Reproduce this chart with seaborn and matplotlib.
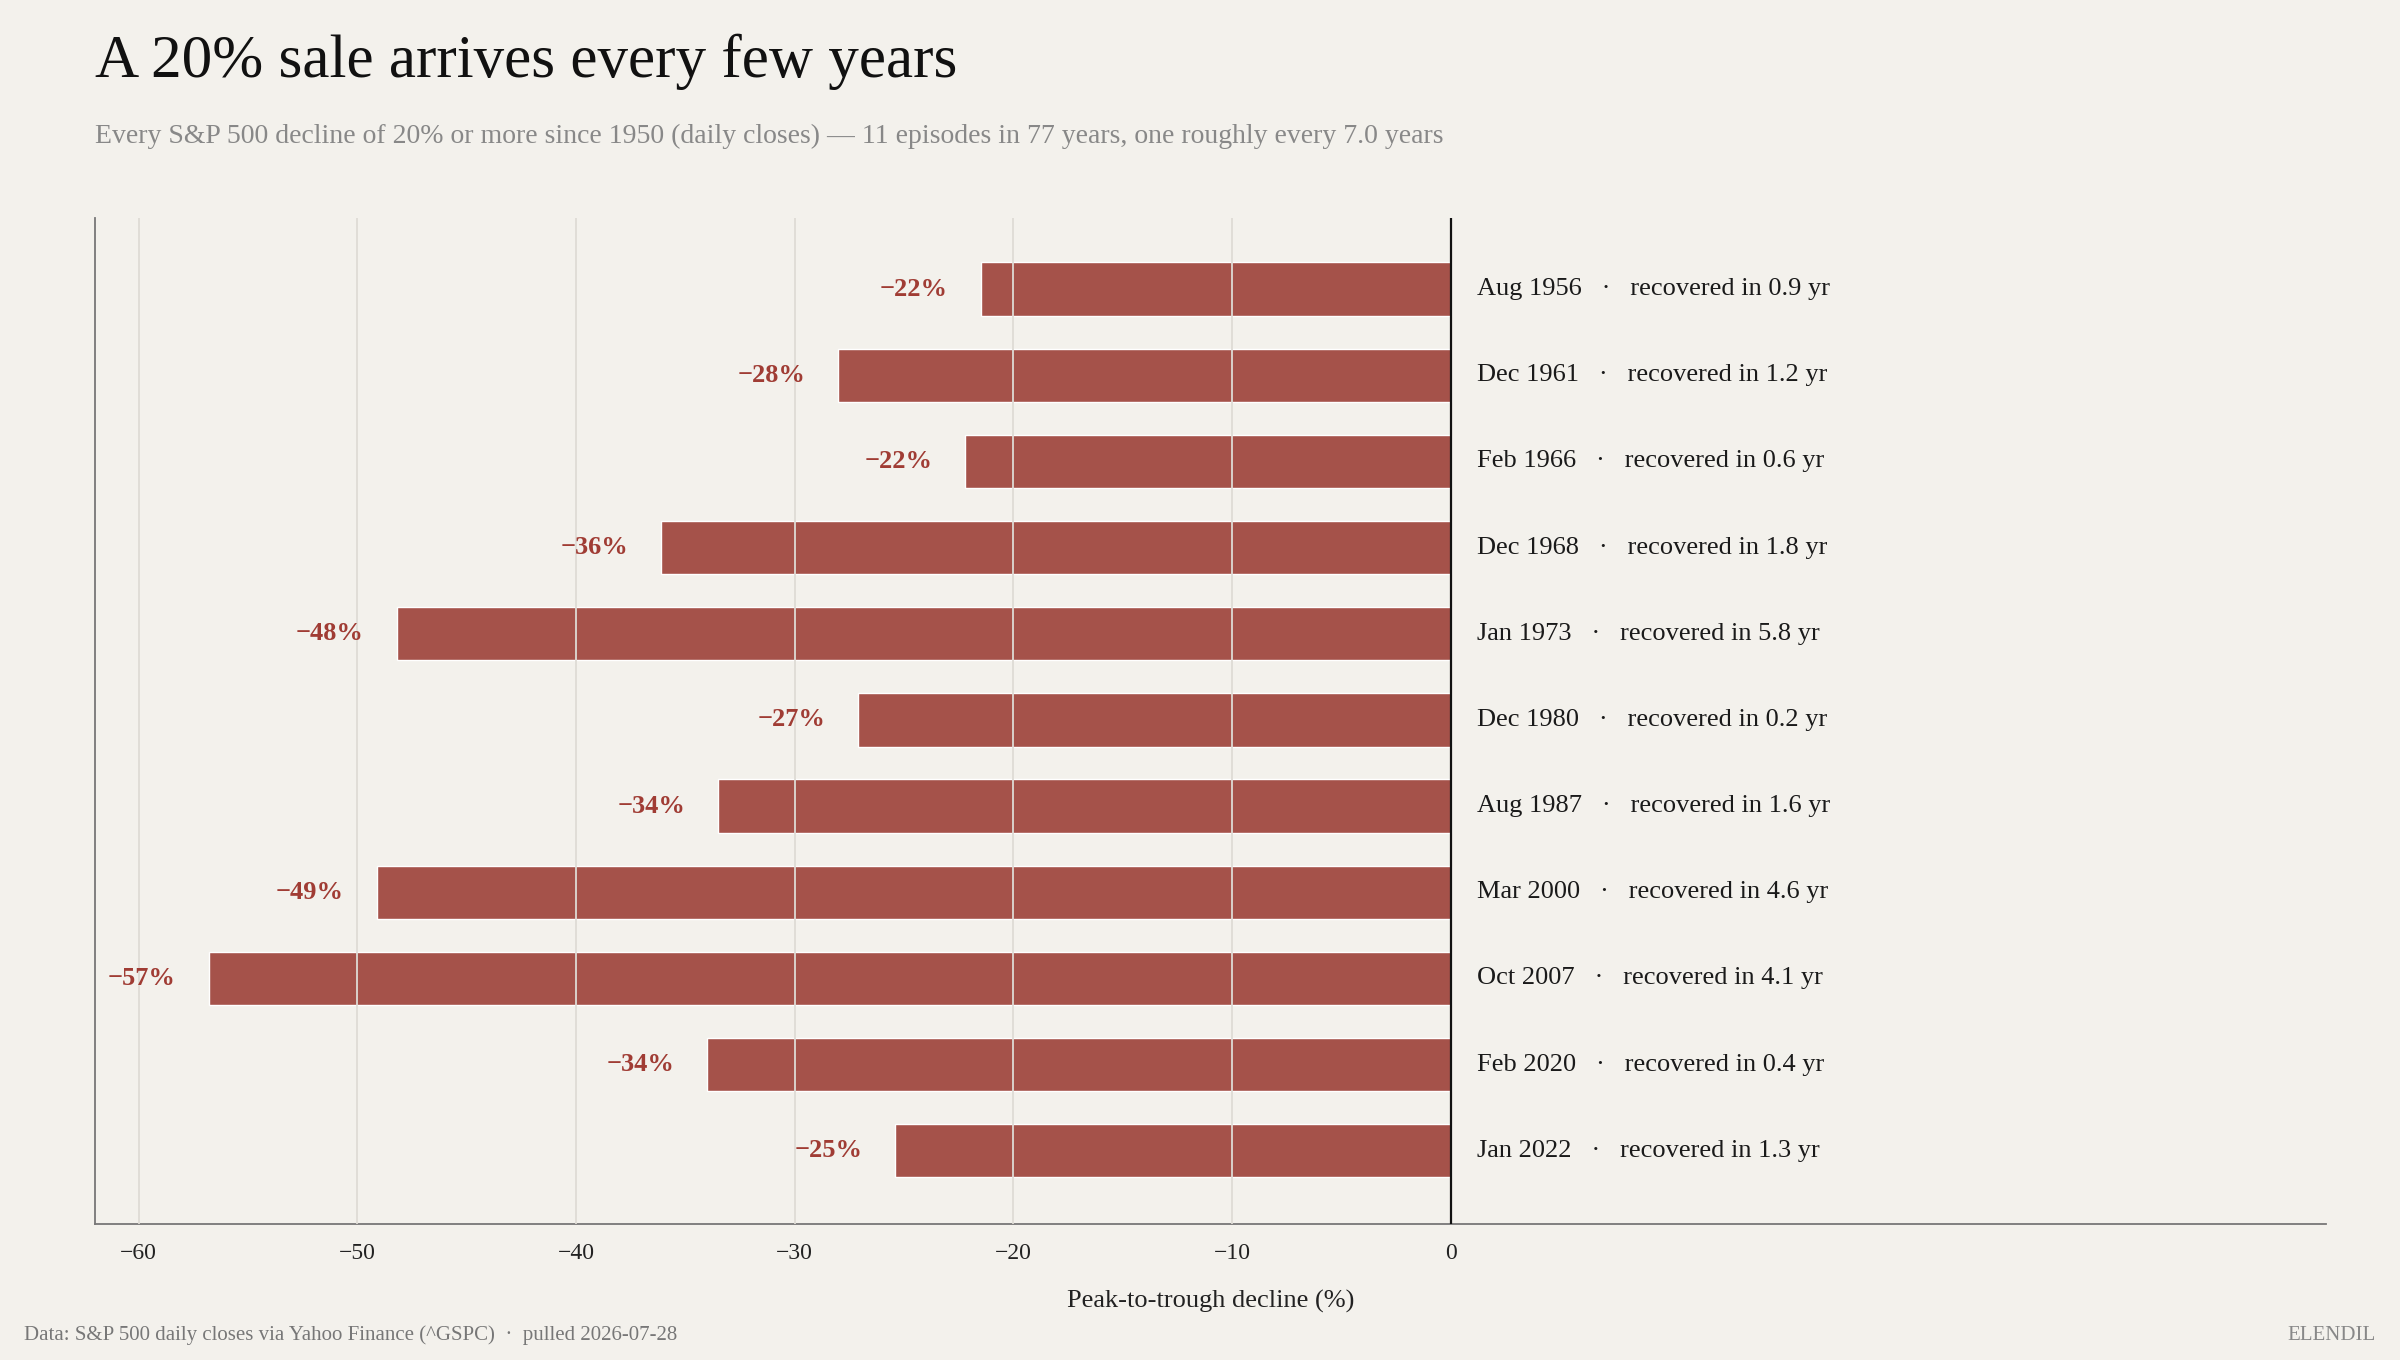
import matplotlib
matplotlib.use("Agg")
import matplotlib.pyplot as plt
import seaborn as sns
import pandas as pd

# === Data ===
peaks = ["Aug 1956", "Dec 1961", "Feb 1966", "Dec 1968", "Jan 1973", "Dec 1980",
         "Aug 1987", "Mar 2000", "Oct 2007", "Feb 2020", "Jan 2022"]
declines = [-21.5, -28.0, -22.2, -36.1, -48.2, -27.1, -33.5, -49.1, -56.8, -34.0, -25.4]
recovery_yrs = [0.9, 1.2, 0.6, 1.8, 5.8, 0.2, 1.6, 4.6, 4.1, 0.4, 1.3]
df = pd.DataFrame({"peak": peaks, "decline": declines, "recovery": recovery_yrs})

BG = "#f3f1ec"
BAR = "#a5524a"
LBL = "#a03c34"

sns.set_style("white")
plt.rcParams["font.family"] = ["Liberation Serif", "DejaVu Serif"]

fig = plt.figure(figsize=(24, 13.6), dpi=100, facecolor=BG)
ax = fig.add_axes([0.0395, 0.10, 0.9295, 0.74], facecolor=BG)

sns.barplot(data=df, x="decline", y="peak", orient="h", color=BAR,
            width=0.62, saturation=1, ax=ax, zorder=2)

ax.set_xlim(-62, 40)
ax.set_ylim(10.85, -0.83)
ax.set_xticks(range(-60, 1, 10))
ax.set_xticklabels([f"\u2212{abs(v)}" if v else "0" for v in range(-60, 1, 10)], fontsize=17, color="#222")
ax.set_yticks([])
ax.set_ylabel("")
ax.set_xlabel("Peak-to-trough decline (%)", fontsize=19, color="#222", labelpad=18)
ax.tick_params(axis="x", length=6, color="#777", pad=8)

for v in range(-60, 0, 10):
    ax.axvline(v, color="#dedbd5", lw=1.3, zorder=3)
ax.axvline(0, color="#111", lw=1.6, zorder=4)

for s in ["top", "right"]:
    ax.spines[s].set_visible(False)
for s in ["left", "bottom"]:
    ax.spines[s].set_color("#777")
    ax.spines[s].set_linewidth(1.3)

for i, row in df.iterrows():
    ax.text(row.decline - 1.5, i, f"\u2212{abs(round(row.decline)):.0f}%", ha="right", va="center",
            fontsize=19, fontweight="bold", color=LBL, zorder=5)
    ax.text(1.2, i, f"{row.peak}   \u00b7   recovered in {row.recovery} yr", ha="left", va="center",
            fontsize=19, color="#1a1a1a", zorder=5)

fig.text(0.0395, 0.975, "A 20% sale arrives every few years", fontsize=44, color="#111", va="top")
fig.text(0.0395, 0.9, "Every S&P 500 decline of 20% or more since 1950 (daily closes) \u2014 11 episodes in 77 years, one roughly every 7.0 years",
         fontsize=20, color="#888", va="center")
fig.text(0.01, 0.018, "Data: S&P 500 daily closes via Yahoo Finance (^GSPC)  \u00b7  pulled 2026-07-28",
         fontsize=15, color="#777", va="center")
fig.text(0.99, 0.018, "ELENDIL", fontsize=15, color="#888", ha="right", va="center")

fig.savefig("out.png", dpi=100, facecolor=BG)
